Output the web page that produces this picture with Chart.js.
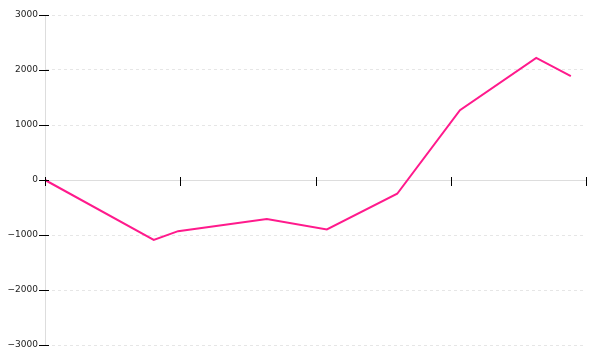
<!DOCTYPE html>
<html>
<head>
<meta charset="utf-8">
<script src="https://cdn.jsdelivr.net/npm/chart.js@4/dist/chart.umd.min.js"></script>
<style>
  html, body { margin: 0; padding: 0; background: #fff; }
  #wrap { width: 600px; height: 360px; }
</style>
</head>
<body>
<div id="wrap"><canvas id="lineChart"></canvas></div>
<script>
// Data
const xValues = [0, 20.1, 24.6, 41.0, 52.1, 65.1, 76.7, 90.8, 97.2];
const yValues = [0, -1090, -930, -710, -900, -250, 1270, 2220, 1890];
const yTicks = [-3000, -2000, -1000, 0, 1000, 2000, 3000];
const xTicks = [0, 25, 50, 75, 100];

const points = xValues.map((x, i) => ({ x: x, y: yValues[i] }));

// Draw the little black tick marks that cross both axes
const tickMarks = {
    id: 'tickMarks',
    afterDraw(chart) {
        const c = chart.ctx;
        const xs = chart.scales.x;
        const ys = chart.scales.y;
        const zero = ys.getPixelForValue(0);
        const left = chart.chartArea.left;
        c.save();
        c.strokeStyle = '#000';
        c.lineWidth = 1;
        c.beginPath();
        yTicks.forEach(v => {
            const py = Math.round(ys.getPixelForValue(v)) + 0.5;
            c.moveTo(left - 6, py);
            c.lineTo(left + 4, py);
        });
        xTicks.forEach(v => {
            const px = Math.round(xs.getPixelForValue(v)) + 0.5;
            c.moveTo(px, zero - 3);
            c.lineTo(px, zero + 6);
        });
        c.stroke();
        c.restore();
    }
};

const ctx = document.getElementById('lineChart').getContext('2d');
const lineChart = new Chart(ctx, {
    type: 'line',
    data: {
        datasets: [{
            data: points,
            borderColor: '#ff1a8c',
            borderWidth: 2,
            pointRadius: 0,
            tension: 0,
            fill: false
        }]
    },
    options: {
        responsive: true,
        maintainAspectRatio: false,
        animation: false,
        layout: { padding: { top: 15, bottom: 15, right: 14, left: 0 } },
        plugins: {
            legend: { display: false },
            tooltip: { enabled: false }
        },
        scales: {
            x: {
                type: 'linear',
                position: { y: 0 },
                min: 0,
                max: 100,
                afterBuildTicks: axis => { axis.ticks = xTicks.map(v => ({ value: v })); },
                ticks: { display: false },
                grid: { display: false },
                border: { display: true, color: '#dddddd', width: 1 }
            },
            y: {
                min: -3000,
                max: 3000,
                afterBuildTicks: axis => { axis.ticks = yTicks.map(v => ({ value: v })); },
                afterFit: axis => { axis.width = 45; },
                ticks: {
                    padding: 7,
                    color: '#222',
                    font: { family: 'DejaVu Sans', size: 9 },
                    callback: v => String(v).replace('-', '\u2212')
                },
                grid: {
                    drawTicks: false,
                    color: ctx => ctx.tick && ctx.tick.value === 0 ? 'rgba(0,0,0,0)' : '#e6e6e6',
                    lineWidth: 1
                },
                border: { display: true, color: '#dddddd', dash: [3, 3] }
            }
        }
    },
    plugins: [tickMarks]
});
</script>
</body>
</html>
